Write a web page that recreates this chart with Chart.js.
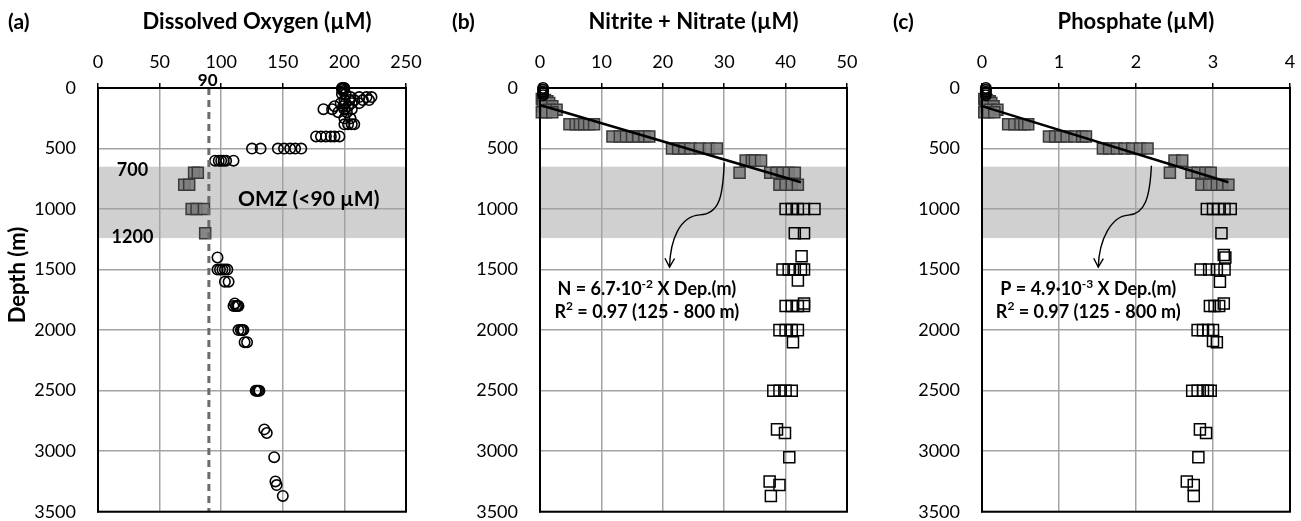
<!DOCTYPE html>
<html>
<head>
<meta charset="utf-8">
<script src="https://cdn.jsdelivr.net/npm/chart.js@4.4.1/dist/chart.umd.min.js"></script>
<style>
  body { margin: 0; background: #fff; width: 1301px; height: 521px; overflow: hidden; position: relative; }
  canvas { position: absolute; top: 0; }
</style>
</head>
<body>
<canvas id="chartA" width="440" height="521" style="left:0px"></canvas>
<canvas id="chartB" width="430" height="521" style="left:440px"></canvas>
<canvas id="chartC" width="431" height="521" style="left:870px"></canvas>
<script>
const FONT = 'Lato, "Open Sans", sans-serif';

// ---- (a) dissolved oxygen ----
let oxyX = [198, 199, 200, 198, 199, 198, 201, 205, 212, 218, 222, 200, 204, 208, 215, 220, 197, 201, 206, 212,
  192, 199, 203, 183, 190, 200, 206, 195, 202, 200, 205, 200, 203, 206, 208,
  177, 181, 185, 189, 192, 196, 125, 132, 146, 151, 156, 160, 165, 95, 98, 100, 102, 104, 110,
  97, 97, 99, 101, 103, 105, 103, 106, 110, 112, 113, 114, 111, 114, 116, 117, 118, 119, 121,
  128, 129, 130, 131, 135, 137, 143, 144, 145, 150];
let oxyDepth = [0, 0, 0, 10, 25, 50, 50, 75, 75, 75, 75, 100, 100, 100, 100, 100, 125, 125, 125, 125,
  150, 150, 150, 175, 175, 175, 175, 200, 200, 250, 250, 300, 300, 300, 300,
  400, 400, 400, 400, 400, 400, 500, 500, 500, 500, 500, 500, 500, 600, 600, 600, 600, 600, 600,
  1400, 1500, 1500, 1500, 1500, 1500, 1600, 1600, 1800, 1800, 1800, 1800, 1780, 2000, 2000, 2000, 2000, 2100, 2100,
  2500, 2500, 2500, 2500, 2820, 2850, 3050, 3250, 3280, 3370];
let omzX = [78, 81, 70, 74, 76, 80, 86, 87];
let omzDepth = [700, 700, 800, 800, 1000, 1000, 1000, 1200];

// ---- (b) nitrite + nitrate ----
let noxSurfX = [0.5, 0.5, 0.5, 0.5, 0.5];
let noxSurfDepth = [0, 15, 30, 45, 60];
let noxUpperX = [0.3, 0.8, 1.2, 0.5, 1.0, 1.5, 0.5, 2.0, 1.5, 2.7, 0.3, 1.0, 2.0,
  4.8, 5.8, 6.5, 7.2, 8, 8.8, 11.8, 13, 14, 15, 16, 17, 17.8,
  21.5, 22.5, 23.5, 24.5, 26, 27.5, 28.8, 33.5, 34.5, 35, 36, 32.5,
  37.5, 38.5, 39.5, 40.5, 41.5, 39, 40, 41, 42];
let noxUpperDepth = [90, 100, 110, 125, 125, 125, 150, 150, 180, 180, 200, 200, 200,
  300, 300, 300, 300, 300, 300, 400, 400, 400, 400, 400, 400, 400,
  500, 500, 500, 500, 500, 500, 500, 600, 600, 600, 600, 700,
  700, 700, 700, 700, 700, 800, 800, 800, 800];
let noxDeepX = [40, 41, 42, 43, 44.7, 41.5, 43, 42.6, 39.5, 40.5, 41.5, 42.5, 43, 42,
  40, 41, 42, 43, 43, 39, 40, 41, 42, 41.2, 38, 39, 40, 41, 38.6, 39.9, 40.6, 37.4, 39, 37.6];
let noxDeepDepth = [1000, 1000, 1000, 1000, 1000, 1200, 1200, 1390, 1500, 1500, 1500, 1500, 1500, 1590,
  1800, 1800, 1800, 1800, 1780, 2000, 2000, 2000, 2000, 2100, 2500, 2500, 2500, 2500, 2820, 2850, 3050, 3250, 3280, 3370];
let noxFitX = [0, 42.5];
let noxFitDepth = [140, 778];

// ---- (c) phosphate ----
let po4SurfX = [0.05, 0.05, 0.05, 0.05, 0.05];
let po4SurfDepth = [0, 15, 30, 45, 60];
let po4UpperX = [0.03, 0.06, 0.1, 0.04, 0.08, 0.12, 0.05, 0.15, 0.1, 0.2, 0.03, 0.08, 0.16,
  0.34, 0.42, 0.5, 0.55, 0.6, 0.87, 0.95, 1.02, 1.1, 1.2, 1.3, 1.35,
  1.57, 1.65, 1.75, 1.85, 1.95, 2.05, 2.15, 2.5, 2.6, 2.44,
  2.72, 2.8, 2.9, 2.97, 2.85, 2.95, 3.05, 3.12, 3.2];
let po4UpperDepth = [90, 100, 110, 125, 125, 125, 150, 150, 180, 180, 200, 200, 200,
  300, 300, 300, 300, 300, 400, 400, 400, 400, 400, 400, 400,
  500, 500, 500, 500, 500, 500, 500, 600, 600, 700,
  700, 700, 700, 700, 800, 800, 800, 800, 800];
let po4DeepX = [2.92, 3.0, 3.07, 3.15, 3.23, 3.11, 3.14, 3.16, 2.84, 2.95, 3.05, 3.15, 3.09,
  2.96, 3.02, 3.08, 3.14, 2.8, 2.87, 2.94, 3.0, 3.05, 3.0, 2.73, 2.8, 2.87, 2.93, 2.97,
  2.83, 2.91, 2.81, 2.66, 2.75, 2.75];
let po4DeepDepth = [1000, 1000, 1000, 1000, 1000, 1200, 1380, 1400, 1500, 1500, 1500, 1500, 1600,
  1800, 1800, 1800, 1780, 2000, 2000, 2000, 2000, 2100, 2090, 2500, 2500, 2500, 2500, 2500,
  2820, 2850, 3050, 3250, 3280, 3370];
let po4FitX = [0, 3.2];
let po4FitDepth = [150, 779];

// OMZ band limits (m)
let omzBand = [650, 1240];


function pts(xs, ys) {
  return xs.map((x, i) => ({ x: x, y: ys[i] }));
}

function circles(xs, ys) {
  return {
    data: pts(xs, ys), pointStyle: 'circle', pointRadius: 5.2, pointHoverRadius: 5.2,
    backgroundColor: 'rgba(0,0,0,0)', borderColor: '#000', borderWidth: 1.6, clip: false
  };
}

function graySquares(xs, ys) {
  return {
    data: pts(xs, ys), pointStyle: 'rect', pointRadius: 7.8, pointHoverRadius: 7.8,
    backgroundColor: 'rgba(125,125,125,0.9)', borderColor: '#3a3a3a', borderWidth: 1.5, clip: false
  };
}

function openSquares(xs, ys) {
  return {
    data: pts(xs, ys), pointStyle: 'rect', pointRadius: 7.8, pointHoverRadius: 7.8,
    backgroundColor: 'rgba(0,0,0,0)', borderColor: '#000', borderWidth: 1.5, clip: false
  };
}

function fitLine(xs, ys) {
  return {
    type: 'line', data: pts(xs, ys), borderColor: '#000', borderWidth: 2.5,
    pointRadius: 0, showLine: true, fill: false, clip: false
  };
}


function getScales(xMax, xStep, yWidth) {
  return {
    x: {
      type: 'linear', position: 'top', min: 0, max: xMax,
      ticks: { stepSize: xStep, padding: 10, color: '#000', font: { family: FONT, size: 18 } },
      grid: { color: '#a3a3a3', lineWidth: 1.5, tickLength: 5, tickColor: '#000', tickWidth: 1.5 },
      border: { color: '#000', width: 2 },
      afterFit(s) { s.height = 88; s.paddingLeft = 0; s.paddingRight = 0; }
    },
    y: {
      type: 'linear', reverse: true, min: 0, max: 3500,
      ticks: { stepSize: 500, padding: 22, color: '#000', font: { family: FONT, size: 18 },
        callback: v => String(v) },
      grid: { color: '#a3a3a3', lineWidth: 1.5, drawTicks: false },
      border: { color: '#000', width: 2 },
      afterFit(s) { s.width = yWidth; s.paddingTop = 0; s.paddingBottom = 0; }
    }
  };
}


// text with optional superscript parts: segs = [[text, isSup], ...]
function drawRich(ctx, segs, cx, cy, size) {
  let total = 0;
  let widths = segs.map(s => {
    ctx.font = 'bold ' + (s[1] ? Math.round(size * 0.65) : size) + 'px ' + FONT;
    let w = ctx.measureText(s[0]).width;
    total += w;
    return w;
  });
  let x = cx - total / 2;
  ctx.textAlign = 'left';
  ctx.textBaseline = 'middle';
  segs.forEach((s, i) => {
    ctx.font = 'bold ' + (s[1] ? Math.round(size * 0.65) : size) + 'px ' + FONT;
    ctx.fillText(s[0], x, s[1] ? cy - size * 0.32 : cy);
    x += widths[i];
  });
}

function drawArrow(chart, a) {
  const ctx = chart.ctx, sx = chart.scales.x, sy = chart.scales.y;
  const P = a.map(p => [sx.getPixelForValue(p[0]), sy.getPixelForValue(p[1])]);
  ctx.save();
  ctx.strokeStyle = '#000';
  ctx.lineWidth = 1.4;
  ctx.beginPath();
  ctx.moveTo(P[0][0], P[0][1]);
  ctx.bezierCurveTo(P[1][0], P[1][1], P[2][0], P[2][1], P[3][0], P[3][1]);
  ctx.bezierCurveTo(P[4][0], P[4][1], P[5][0], P[5][1], P[6][0], P[6][1]);
  ctx.stroke();
  const end = P[6], prev = P[5];
  const ang = Math.atan2(end[1] - prev[1], end[0] - prev[0]);
  ctx.beginPath();
  ctx.moveTo(end[0] - 10 * Math.cos(ang - 0.5), end[1] - 10 * Math.sin(ang - 0.5));
  ctx.lineTo(end[0], end[1]);
  ctx.lineTo(end[0] - 10 * Math.cos(ang + 0.5), end[1] - 10 * Math.sin(ang + 0.5));
  ctx.stroke();
  ctx.restore();
}


const decor = {
  id: 'decor',
  beforeDraw(chart, args, opts) {
    const ctx = chart.ctx, area = chart.chartArea, sy = chart.scales.y;
    const y0 = sy.getPixelForValue(omzBand[0]), y1 = sy.getPixelForValue(omzBand[1]);
    ctx.save();
    ctx.fillStyle = '#d0d0d0';
    ctx.fillRect(area.left, y0, area.right - area.left, y1 - y0);
    ctx.restore();
  },
  afterDatasetsDraw(chart, args, opts) {
    const ctx = chart.ctx, area = chart.chartArea;
    ctx.save();
    ctx.strokeStyle = '#000';
    ctx.lineWidth = 2;
    ctx.strokeRect(area.left, area.top, area.right - area.left, area.bottom - area.top);
    ctx.restore();
    if (opts.arrow) drawArrow(chart, opts.arrow);
  },
  afterDraw(chart, args, opts) {
    const ctx = chart.ctx, area = chart.chartArea, sx = chart.scales.x, sy = chart.scales.y;
    ctx.save();
    ctx.fillStyle = '#000';
    ctx.textBaseline = 'middle';
    ctx.font = 'bold 22px ' + FONT;
    ctx.textAlign = 'center';
    ctx.fillText(opts.title, (area.left + area.right) / 2 + (opts.titleShift || 0), 22);
    ctx.font = 'bold 21px ' + FONT;
    ctx.textAlign = 'left';
    ctx.fillText(opts.letter, opts.letterX, 22);
    if (opts.yTitle) {
      ctx.save();
      ctx.font = 'bold 22px ' + FONT;
      ctx.translate(18, 275);
      ctx.rotate(-Math.PI / 2);
      ctx.textAlign = 'center';
      ctx.fillText(opts.yTitle, 0, 0);
      ctx.restore();
    }
    (opts.notes || []).forEach(n => {
      drawRich(ctx, n.segs, sx.getPixelForValue(n.x), sy.getPixelForValue(n.y), n.size);
    });
    ctx.restore();
  }
};


function makeChart(id, datasets, xMax, xStep, yWidth, padRight, decorOpts) {
  return new Chart(document.getElementById(id), {
    type: 'scatter',
    data: { datasets: datasets },
    options: {
      responsive: false,
      animation: false,
      events: [],
      layout: { padding: { left: 0, top: 0, right: padRight, bottom: 8 } },
      scales: getScales(xMax, xStep, yWidth),
      plugins: {
        legend: { display: false },
        tooltip: { enabled: false },
        decor: decorOpts
      }
    },
    plugins: [decor]
  });
}


makeChart('chartA', [
  {
    type: 'line', data: pts([90, 90], [0, 3500]), borderColor: '#6b6b6b', borderWidth: 3,
    borderDash: [7, 5], pointRadius: 0, showLine: true, fill: false
  },
  circles(oxyX, oxyDepth),
  graySquares(omzX, omzDepth)
], 250, 50, 98, 34, {
  title: 'Dissolved Oxygen (\u00b5M)', titleShift: 5, letter: '(a)', letterX: 8, yTitle: 'Depth (m)',
  notes: [
    { segs: [['90', false]], x: 89, y: -65, size: 17 },
    { segs: [['700', false]], x: 28, y: 675, size: 18 },
    { segs: [['1200', false]], x: 28, y: 1235, size: 18 },
    { segs: [['OMZ (<90 \u00b5M)', false]], x: 171, y: 922, size: 21 }
  ]
});

makeChart('chartB', [
  fitLine(noxFitX, noxFitDepth),
  circles(noxSurfX, noxSurfDepth),
  graySquares(noxUpperX, noxUpperDepth),
  openSquares(noxDeepX, noxDeepDepth)
], 50, 10, 100, 23, {
  title: 'Nitrite + Nitrate (\u00b5M)', letter: '(b)', letterX: 12,
  arrow: [[30, 615], [29.8, 900], [29.2, 1040], [26, 1048], [22.8, 1060], [21.2, 1250], [21.1, 1480]],
  notes: [
    { segs: [['N = 6.7\u00b710', false], ['-2', true], [' X Dep.(m)', false]], x: 17.4, y: 1664, size: 18 },
    { segs: [['R', false], ['2', true], [' = 0.97 (125 - 800 m)', false]], x: 17.4, y: 1853, size: 18 }
  ]
});

makeChart('chartC', [
  fitLine(po4FitX, po4FitDepth),
  circles(po4SurfX, po4SurfDepth),
  graySquares(po4UpperX, po4UpperDepth),
  openSquares(po4DeepX, po4DeepDepth)
], 4, 1, 112, 11, {
  title: 'Phosphate (\u00b5M)', letter: '(c)', letterX: 23,
  arrow: [[2.2, 642], [2.18, 900], [2.12, 1040], [1.9, 1050], [1.68, 1060], [1.52, 1250], [1.51, 1480]],
  notes: [
    { segs: [['P = 4.9\u00b710', false], ['-3', true], [' X Dep.(m)', false]], x: 1.38, y: 1664, size: 18 },
    { segs: [['R', false], ['2', true], [' = 0.97 (125 - 800 m)', false]], x: 1.38, y: 1853, size: 18 }
  ]
});
</script>
</body>
</html>
